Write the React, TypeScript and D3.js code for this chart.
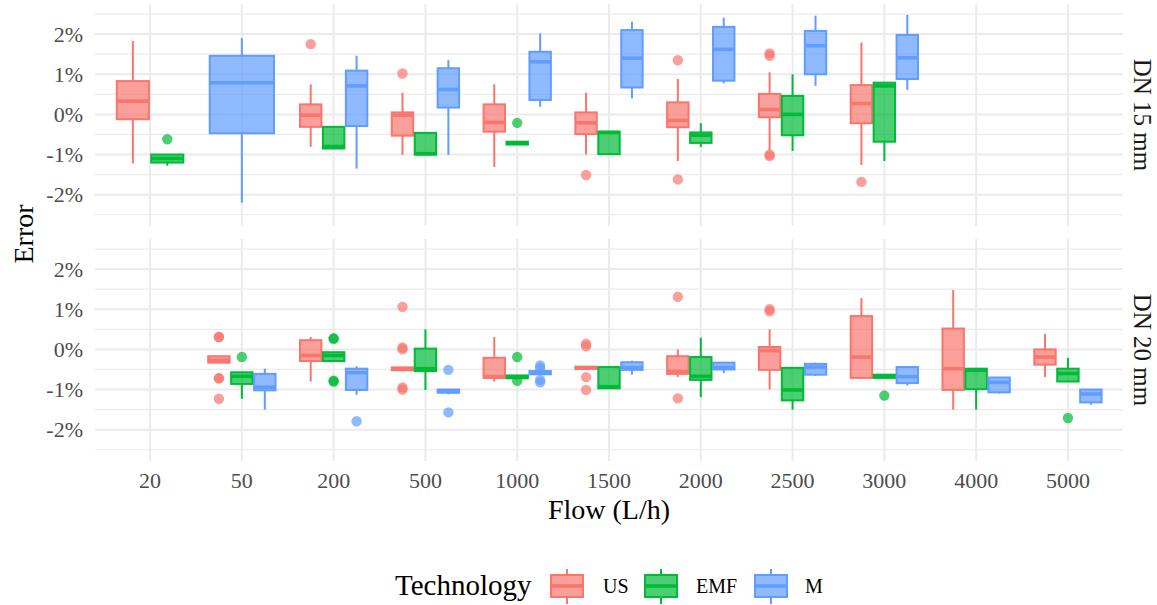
import * as d3 from "d3"

type Stat = [number, number, number, number, number] | null // [lo, q1, med, q3, hi]

const flows = ["20", "50", "200", "500", "1000", "1500", "2000", "2500", "3000", "4000", "5000"]
const techs = ["US", "EMF", "M"]
const techColors = ["#F8766D", "#00BA38", "#619CFF"]
const panels = ["DN 15 mm", "DN 20 mm"]
const yTicks = [-2, -1, 0, 1, 2]
const yMinor = [-2.5, -1.5, -0.5, 0.5, 1.5, 2.5]

// DN 15 mm
const dn15US: Stat[] = [
  [-1.22, -0.12, 0.33, 0.83, 1.83], null, [-0.81, -0.31, -0.02, 0.25, 0.75], [-1.01, -0.53, -0.02, 0.05, 0.54],
  [-1.31, -0.43, -0.2, 0.25, 0.75], [-1.0, -0.49, -0.21, 0.05, 0.54], [-1.16, -0.32, -0.15, 0.3, 0.88],
  [-0.9, -0.07, 0.12, 0.51, 1.05], [-1.26, -0.22, 0.27, 0.73, 1.79], null, null,
]
const dn15EMF: Stat[] = [
  [-1.28, -1.2, -1.1, -1.0, -1.0], null, [-0.85, -0.85, -0.8, -0.31, -0.31], [-1.0, -1.0, -0.98, -0.46, -0.46],
  [-0.75, -0.75, -0.72, -0.68, -0.68], [-0.99, -0.99, -0.45, -0.43, -0.43], [-0.81, -0.71, -0.52, -0.45, -0.22],
  [-0.91, -0.52, 0.0, 0.46, 1.0], [-1.16, -0.68, 0.71, 0.79, 0.79], null, null,
]
const dn15M: Stat[] = [
  null, [-2.2, -0.47, 0.79, 1.46, 1.9], [-1.35, -0.29, 0.71, 1.09, 1.46], [-1.01, 0.17, 0.62, 1.15, 1.35],
  [0.19, 0.36, 1.31, 1.56, 2.02], [0.4, 0.67, 1.4, 2.1, 2.31], [0.77, 0.84, 1.62, 2.18, 2.41],
  [0.71, 1.0, 1.71, 2.08, 2.46], [0.61, 0.88, 1.41, 1.98, 2.48], null, null,
]
const dn15USOut = [[], [], [1.75], [1.02], [], [-1.51], [1.35, -1.62], [1.52, 1.46, -1.0, -1.04], [-1.68], [], []]
const dn15EMFOut = [[-0.62], [], [], [], [-0.21], [], [], [], [], [], []]
const dn15MOut = [[], [], [], [], [], [], [], [], [], [], []]

// DN 20 mm
const dn20US: Stat[] = [
  null, [-0.33, -0.33, -0.27, -0.17, -0.17], [-0.8, -0.29, -0.15, 0.23, 0.31], [-0.52, -0.52, -0.48, -0.45, -0.43],
  [-0.8, -0.71, -0.68, -0.21, 0.31], [-0.49, -0.49, -0.46, -0.43, -0.43], [-0.69, -0.61, -0.55, -0.17, 0.0],
  [-1.0, -0.51, -0.03, 0.06, 0.5], [-0.71, -0.71, -0.19, 0.83, 1.28], [-1.5, -1.01, -0.48, 0.52, 1.48],
  [-0.69, -0.38, -0.19, 0.0, 0.39],
]
const dn20EMF: Stat[] = [
  null, [-1.23, -0.86, -0.67, -0.57, -0.57], [-0.29, -0.29, -0.15, -0.07, -0.07], [-1.01, -0.54, -0.48, 0.02, 0.5],
  [-0.72, -0.72, -0.68, -0.65, -0.65], [-0.97, -0.97, -0.93, -0.44, -0.42], [-1.19, -0.76, -0.67, -0.19, 0.29],
  [-1.5, -1.27, -1.01, -0.46, -0.46], [-0.71, -0.71, -0.67, -0.63, -0.63], [-1.5, -0.99, -0.52, -0.48, -0.48],
  [-0.8, -0.8, -0.6, -0.48, -0.21],
]
const dn20M: Stat[] = [
  null, [-1.5, -1.02, -0.94, -0.61, -0.48], [-1.13, -1.01, -0.58, -0.48, -0.42], [-1.12, -1.08, -1.04, -1.0, -1.0],
  [-0.62, -0.62, -0.58, -0.54, -0.54], [-0.63, -0.51, -0.45, -0.32, -0.28], [-0.59, -0.5, -0.45, -0.33, -0.33],
  [-0.66, -0.63, -0.44, -0.36, -0.33], [-0.9, -0.84, -0.68, -0.44, -0.44], [-1.1, -1.07, -0.82, -0.7, -0.69],
  [-1.38, -1.32, -1.11, -1.0, -1.0],
]
const dn20USOut = [[], [0.31, 0.31, -0.72, -0.72, -1.23], [], [1.06, 0.05, 0.0, -0.95, -1.0], [], [0.14, 0.08, -0.69, -1.01], [1.31, -1.22], [1.0, 0.95], [], [], []]
const dn20EMFOut = [[], [-0.19], [0.27, 0.27, -0.78, -0.8], [], [-0.19, -0.78], [], [], [], [-1.15], [], [-1.71]]
const dn20MOut = [[], [], [-1.79], [-0.51, -1.57], [-0.4, -0.47, -0.76, -0.82], [], [], [], [], [], []]

const stats = [[dn15US, dn15EMF, dn15M], [dn20US, dn20EMF, dn20M]]
const outliers = [[dn15USOut, dn15EMFOut, dn15MOut], [dn20USOut, dn20EMFOut, dn20MOut]]

const FONT = "'Liberation Serif', 'Times New Roman', serif"

export default function App() {
  const width = 1157
  const height = 605
  const left = 95
  const right = 1123
  const panelY = [[4, 226], [239, 461]]

  const x = d3.scalePoint<string>().domain(flows).range([left, right]).padding(0.6)
  const step = x.step()
  const pct = (v: number) => `${v}%`

  return (
    <svg width={width} height={height} style={{ position: "absolute", left: 0, top: 0, background: "#fff" }} fontFamily={FONT}>
      {panels.map((label, p) => {
        const [top, bottom] = panelY[p]
        const y = d3.scaleLinear().domain([-2.78, 2.75]).range([bottom, top])
        return (
          <g key={label}>
            {/* grid */}
            {yMinor.map((t) => (
              <line key={"mi" + t} x1={left} x2={right} y1={y(t)} y2={y(t)} stroke="#EBEBEB" strokeWidth={1.2} />
            ))}
            {yTicks.map((t) => (
              <line key={"ma" + t} x1={left} x2={right} y1={y(t)} y2={y(t)} stroke="#EBEBEB" strokeWidth={2} />
            ))}
            {flows.map((f) => (
              <line key={"v" + f} x1={x(f)} x2={x(f)} y1={top} y2={bottom} stroke="#EBEBEB" strokeWidth={2} />
            ))}
            {/* y tick labels */}
            {yTicks.map((t) => (
              <text key={"yl" + t} x={83} y={y(t)} dy="0.35em" textAnchor="end" fontSize={22} fill="#4D4D4D">
                {pct(t)}
              </text>
            ))}
            {/* boxes */}
            {flows.map((f, c) => {
              const present = techs.map((_, t) => t).filter((t) => stats[p][t][c] !== null)
              const n = present.length
              const slot = (0.75 * step) / n
              const bw = (0.7 * step) / n
              return present.map((t, k) => {
                const s = stats[p][t][c] as [number, number, number, number, number]
                const cx = (x(f) as number) + (k - (n - 1) / 2) * slot
                const col = techColors[t]
                const [lo, q1, med, q3, hi] = s
                return (
                  <g key={f + techs[t]}>
                    {outliers[p][t][c].map((o, i) => (
                      <circle key={i} cx={cx} cy={y(o)} r={5.2} fill={col} fillOpacity={0.7} />
                    ))}
                    <line x1={cx} x2={cx} y1={y(hi)} y2={y(q3)} stroke={col} strokeWidth={2} />
                    <line x1={cx} x2={cx} y1={y(q1)} y2={y(lo)} stroke={col} strokeWidth={2} />
                    <rect
                      x={cx - bw / 2}
                      y={y(q3)}
                      width={bw}
                      height={Math.max(0, y(q1) - y(q3))}
                      fill={col}
                      fillOpacity={0.7}
                      stroke={col}
                      strokeWidth={2}
                    />
                    <line x1={cx - bw / 2} x2={cx + bw / 2} y1={y(med)} y2={y(med)} stroke={col} strokeWidth={3.6} />
                  </g>
                )
              })
            })}
            {/* strip label */}
            <text
              transform={`translate(1142,${(top + bottom) / 2}) rotate(90)`}
              textAnchor="middle"
              dy="0.32em"
              fontSize={25}
              fill="#1A1A1A"
            >
              {label}
            </text>
          </g>
        )
      })}

      {/* x tick labels */}
      {flows.map((f) => (
        <text key={"xl" + f} x={x(f)} y={487.5} textAnchor="middle" fontSize={22} fill="#4D4D4D">
          {f}
        </text>
      ))}

      {/* axis titles */}
      <text x={(left + right) / 2} y={519} textAnchor="middle" fontSize={28} fill="#000">
        Flow (L/h)
      </text>
      <text transform="translate(33,234) rotate(-90)" textAnchor="middle" fontSize={28} fill="#000">
        Error
      </text>

      {/* legend */}
      <text x={395} y={595} fontSize={29} fill="#000">
        Technology
      </text>
      {techs.map((t, i) => {
        const kx = [550, 644, 754][i]
        const tx = [603, 696, 805][i]
        const col = techColors[i]
        const kw = 34
        return (
          <g key={"lg" + t}>
            <line x1={kx + kw / 2} x2={kx + kw / 2} y1={569} y2={575} stroke={col} strokeWidth={2} />
            <line x1={kx + kw / 2} x2={kx + kw / 2} y1={597} y2={604} stroke={col} strokeWidth={2} />
            <rect x={kx + 1} y={575} width={kw - 2} height={22} fill={col} fillOpacity={0.7} stroke={col} strokeWidth={2} />
            <line x1={kx + 1} x2={kx + kw - 1} y1={586} y2={586} stroke={col} strokeWidth={3.6} />
            <text x={tx} y={593} fontSize={20} fill="#000">
              {t}
            </text>
          </g>
        )
      })}
    </svg>
  )
}
